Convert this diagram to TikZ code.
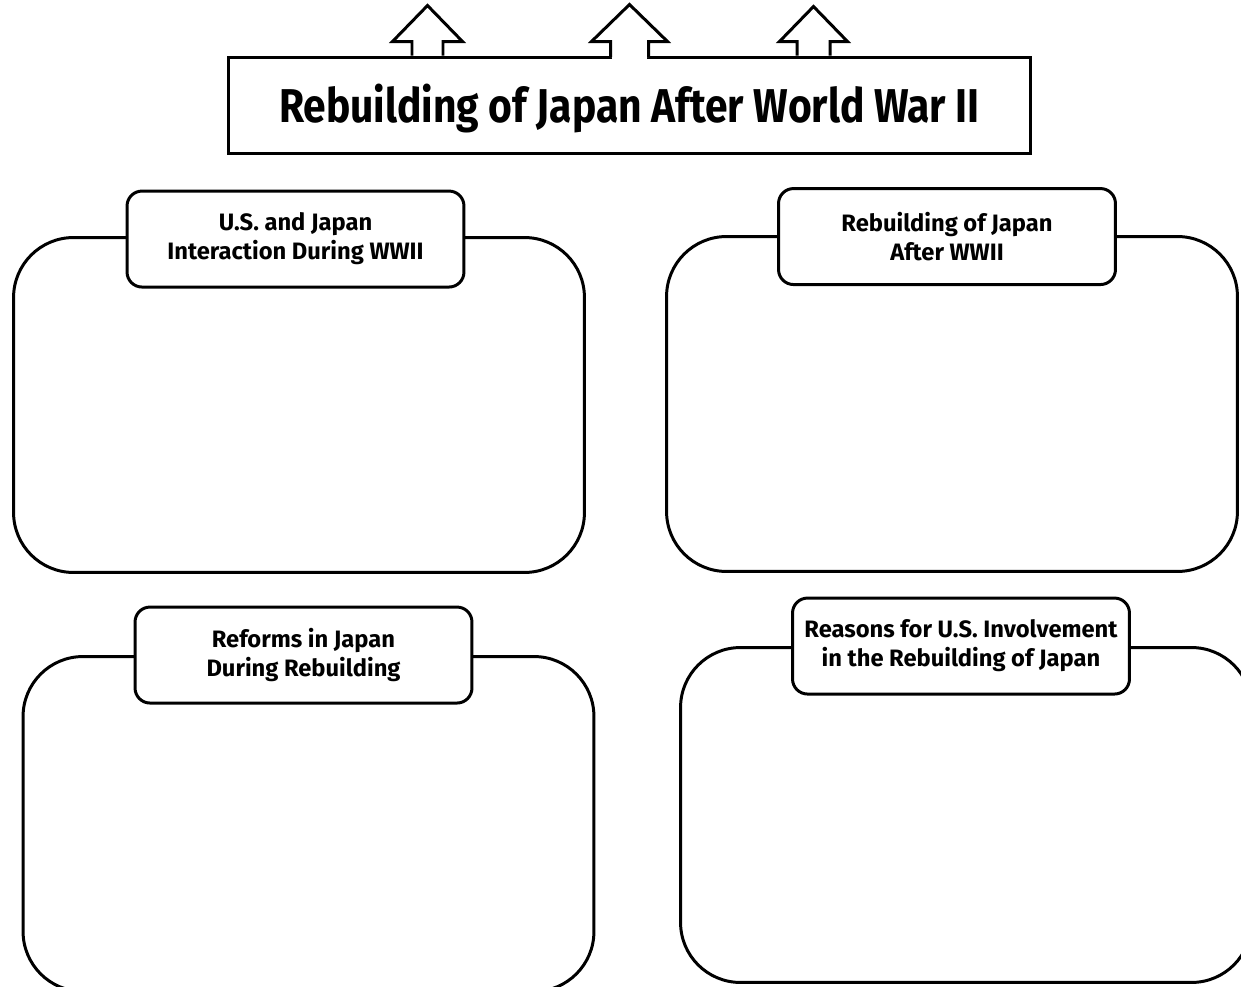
\documentclass[tikz,border=0pt]{standalone}
\usepackage{fontspec}
\usepackage{tikz}
\usetikzlibrary{calc, positioning}
\newfontfamily\titlefont[FakeStretch=0.86]{Fira Sans}
\newfontfamily\boxfont{Fira Sans}

\begin{document}
\begin{tikzpicture}[x=0.02cm, y=-0.02cm, line width=1.7pt,
		panel/.style={draw, rounded corners=1.2cm, minimum width=11.42cm, minimum height=6.7cm},
		tag/.style={draw, fill=white, rounded corners=0.3cm, minimum width=6.74cm, minimum height=1.92cm, align=center, font=\boxfont\bfseries\fontsize{13.5}{16.5}\selectfont},
		blockarrow/.style={draw, fill=white, line join=miter}]
		\useasboundingbox (0,0) rectangle (1241,987);
		\clip (0,0) rectangle (1241,987);
		% title and arrows
		\node[draw, minimum width=16.06cm, minimum height=1.94cm, text depth=0.1cm, font=\titlefont\bfseries\fontsize{27}{30}\selectfont] (title) at (629.5,105.5) {Rebuilding of Japan After World War II};
		\coordinate (a1) at ($(title.north)+(-202,0)$);
		\coordinate (a2) at ($(title.north)+(0,0)$);
		\coordinate (a3) at ($(title.north)+(184,0)$);
		\draw[blockarrow] ($(a1)+(-15.5,0)$) -- ++(0,-14) -- ++(-19.5,0) -- ($(a1)+(0,-50)$) -- ($(a1)+(35,-14)$) -- ++(-19.5,0) -- ++(0,14);
		\fill[white] ($(a2)+(-17.5,-3)$) rectangle ($(a2)+(17.5,3)$);
		\draw[blockarrow] ($(a2)+(-19,1.5)$) -- ++(0,-15.5) -- ++(-19,0) -- ($(a2)+(0,-51)$) -- ($(a2)+(38,-14)$) -- ++(-19,0) -- ++(0,15.5);
		\draw[blockarrow] ($(a3)+(-16.5,0)$) -- ++(0,-14) -- ++(-17.5,0) -- ($(a3)+(0,-49)$) -- ($(a3)+(34,-14)$) -- ++(-17.5,0) -- ++(0,14);
		% four panels
		\node[panel] (p1) at (299,405) {};
		\node[panel] (p2) at (952,404) {};
		\node[panel] (p3) at (308.5,824) {};
		\node[panel] (p4) at (966,815) {};
		\node[tag] (t1) at ($(p1.north)+(-3.5,3)$) {U.S. and Japan\\Interaction During WWII};
		\node[tag] (t2) at ($(p2.north)+(-5,1.5)$) {Rebuilding of Japan\\After WWII};
		\node[tag] (t3) at ($(p3.north)+(-5,0)$) {Reforms in Japan\\During Rebuilding};
		\node[tag] (t4) at ($(p4.north)+(-5,0)$) {Reasons for U.S. Involvement\\in the Rebuilding of Japan};
	\end{tikzpicture}
\end{document}
